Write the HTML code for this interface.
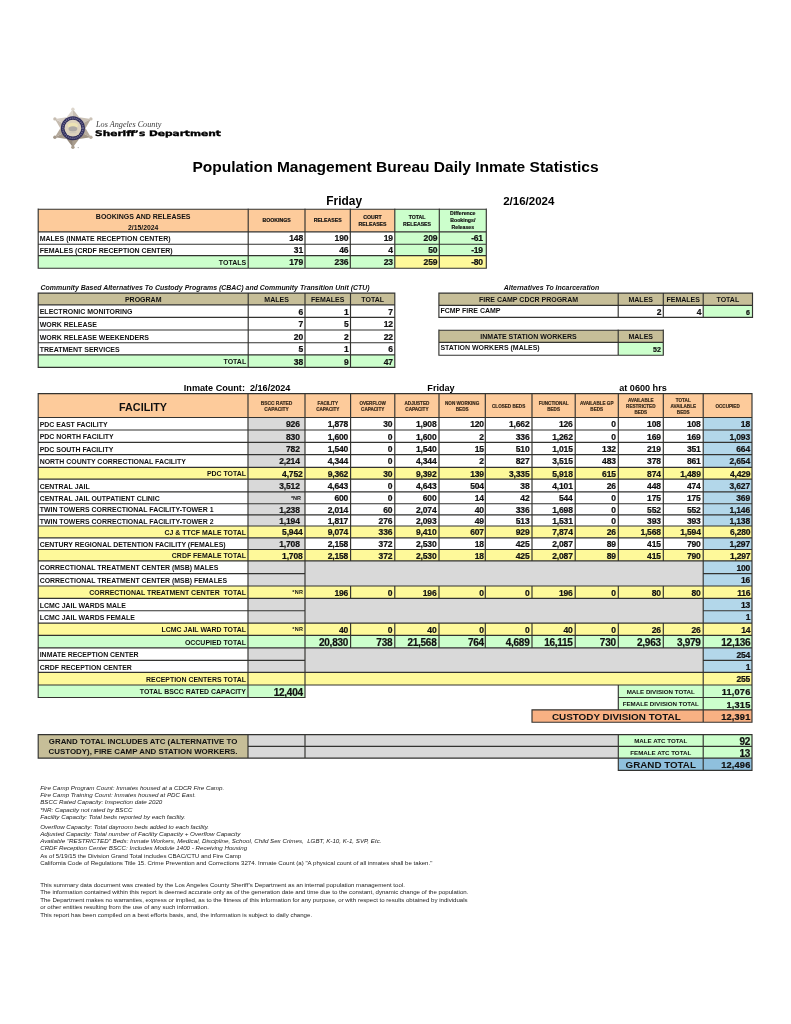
<!DOCTYPE html>
<html lang="en"><head><meta charset="utf-8"><title>Population Management Bureau Daily Inmate Statistics</title>
<style>
html,body{margin:0;padding:0;background:#fff}
#pg{position:relative;width:791px;height:1024px;overflow:hidden;background:#fff;font-family:"Liberation Sans",sans-serif;font-weight:700;color:#111}
.r,.l,.t{position:absolute}
.t{display:flex;align-items:center;box-sizing:border-box;white-space:nowrap;line-height:1.15}
.n{-webkit-text-stroke:0.22px #111}
.h{-webkit-text-stroke:0.18px currentColor}
.tl{justify-content:flex-start;text-align:left}
.tr{justify-content:flex-end;text-align:right}
.tc{justify-content:center;text-align:center}
</style></head>
<body><div id="pg">
<svg class="r" style="left:0;top:0" width="791" height="1024" viewBox="0 0 791 1024">
<rect x="38.2" y="209.2" width="356.6" height="22.6" fill="#FDCB9B"/>
<rect x="394.8" y="209.2" width="91.5" height="22.6" fill="#CCFFCC"/>
<rect x="394.8" y="231.8" width="91.5" height="23.8" fill="#CCFFCC"/>
<rect x="38.2" y="255.6" width="356.6" height="12.6" fill="#CCFFCC"/>
<rect x="394.8" y="255.6" width="91.5" height="12.6" fill="#FEF99A"/>
<rect x="38.2" y="293.1" width="356.6" height="11.7" fill="#C6BE98"/>
<rect x="38.2" y="354.8" width="356.6" height="12.6" fill="#CCFFCC"/>
<rect x="438.9" y="293.1" width="313.6" height="12.2" fill="#C6BE98"/>
<rect x="703.2" y="305.3" width="49.3" height="12.1" fill="#CCFFCC"/>
<rect x="438.9" y="330.2" width="224.4" height="12.1" fill="#C6BE98"/>
<rect x="618.2" y="342.3" width="45.1" height="12.9" fill="#CCFFCC"/>
<rect x="38.2" y="393.6" width="713.8" height="23.9" fill="#FDCB9B"/>
<rect x="248.0" y="417.5" width="57.0" height="12.5" fill="#D9D9D9"/>
<rect x="703.2" y="417.5" width="48.8" height="12.5" fill="#B3D7EA"/>
<rect x="248.0" y="430.0" width="57.0" height="12.3" fill="#D9D9D9"/>
<rect x="703.2" y="430.0" width="48.8" height="12.3" fill="#B3D7EA"/>
<rect x="248.0" y="442.3" width="57.0" height="12.3" fill="#D9D9D9"/>
<rect x="703.2" y="442.3" width="48.8" height="12.3" fill="#B3D7EA"/>
<rect x="248.0" y="454.6" width="57.0" height="12.7" fill="#D9D9D9"/>
<rect x="703.2" y="454.6" width="48.8" height="12.7" fill="#B3D7EA"/>
<rect x="38.2" y="467.3" width="713.8" height="11.8" fill="#FEF99A"/>
<rect x="248.0" y="479.1" width="57.0" height="12.7" fill="#D9D9D9"/>
<rect x="703.2" y="479.1" width="48.8" height="12.7" fill="#B3D7EA"/>
<rect x="248.0" y="491.8" width="57.0" height="11.9" fill="#D9D9D9"/>
<rect x="703.2" y="491.8" width="48.8" height="11.9" fill="#B3D7EA"/>
<rect x="248.0" y="503.7" width="57.0" height="11.2" fill="#D9D9D9"/>
<rect x="703.2" y="503.7" width="48.8" height="11.2" fill="#B3D7EA"/>
<rect x="248.0" y="514.9" width="57.0" height="11.1" fill="#D9D9D9"/>
<rect x="703.2" y="514.9" width="48.8" height="11.1" fill="#B3D7EA"/>
<rect x="38.2" y="526.0" width="713.8" height="11.8" fill="#FEF99A"/>
<rect x="248.0" y="537.8" width="57.0" height="11.7" fill="#D9D9D9"/>
<rect x="703.2" y="537.8" width="48.8" height="11.7" fill="#B3D7EA"/>
<rect x="38.2" y="549.5" width="713.8" height="11.4" fill="#FEF99A"/>
<rect x="248.0" y="560.9" width="455.2" height="13.3" fill="#D9D9D9"/>
<rect x="703.2" y="560.9" width="48.8" height="12.7" fill="#B3D7EA"/>
<rect x="248.0" y="573.6" width="455.2" height="13.0" fill="#D9D9D9"/>
<rect x="703.2" y="573.6" width="48.8" height="12.4" fill="#B3D7EA"/>
<rect x="38.2" y="586.0" width="713.8" height="12.4" fill="#FEF99A"/>
<rect x="248.0" y="598.4" width="455.2" height="12.9" fill="#D9D9D9"/>
<rect x="703.2" y="598.4" width="48.8" height="12.3" fill="#B3D7EA"/>
<rect x="248.0" y="610.7" width="455.2" height="13.0" fill="#D9D9D9"/>
<rect x="703.2" y="610.7" width="48.8" height="12.4" fill="#B3D7EA"/>
<rect x="38.2" y="623.1" width="713.8" height="12.3" fill="#FEF99A"/>
<rect x="38.2" y="635.4" width="713.8" height="12.4" fill="#CCFFCC"/>
<rect x="248.0" y="647.8" width="455.2" height="13.2" fill="#D9D9D9"/>
<rect x="703.2" y="647.8" width="48.8" height="12.6" fill="#B3D7EA"/>
<rect x="248.0" y="660.4" width="455.2" height="12.6" fill="#D9D9D9"/>
<rect x="703.2" y="660.4" width="48.8" height="12.0" fill="#B3D7EA"/>
<rect x="38.2" y="672.4" width="713.8" height="12.6" fill="#FEF99A"/>
<rect x="38.2" y="685.0" width="266.8" height="12.5" fill="#CCFFCC"/>
<rect x="618.3" y="685.0" width="133.7" height="24.8" fill="#CCFFCC"/>
<rect x="532.0" y="709.8" width="220.0" height="12.4" fill="#F8B183"/>
<rect x="38.2" y="734.6" width="209.8" height="23.5" fill="#C6BE98"/>
<rect x="248.0" y="734.6" width="370.3" height="23.5" fill="#D9D9D9"/>
<rect x="618.3" y="734.6" width="133.7" height="23.5" fill="#CCFFCC"/>
<rect x="618.3" y="758.1" width="133.7" height="12.2" fill="#8FC0DD"/>
<path fill="none" stroke="#333330" stroke-width="1.15" d="M37.62 209.20H486.88M37.62 231.80H486.88M37.62 244.20H486.88M37.62 255.60H486.88M37.62 268.20H486.88M38.20 208.62V268.77M248.20 208.62V268.77M305.00 208.62V268.77M350.30 208.62V268.77M394.80 208.62V268.77M439.30 208.62V268.77M486.30 208.62V268.77M37.62 293.10H395.38M37.62 304.80H395.38M37.62 317.40H395.38M37.62 330.00H395.38M37.62 342.70H395.38M37.62 354.80H395.38M37.62 367.40H395.38M38.20 292.53V367.97M248.20 292.53V367.97M305.00 292.53V367.97M350.50 292.53V367.97M394.80 292.53V367.97M438.32 293.10H753.08M438.32 305.30H753.08M438.32 317.40H753.08M438.90 292.53V317.97M618.20 292.53V317.97M663.30 292.53V317.97M703.20 292.53V317.97M752.50 292.53V317.97M438.32 330.20H663.88M438.32 342.30H663.88M438.32 355.20H663.88M438.90 329.62V355.77M618.20 329.62V355.77M663.30 329.62V355.77M37.62 393.60H752.58M37.62 417.50H752.58M38.20 393.03V418.07M248.00 393.03V418.07M305.00 393.03V418.07M350.60 393.03V418.07M394.80 393.03V418.07M439.00 393.03V418.07M485.30 393.03V418.07M532.00 393.03V418.07M575.20 393.03V418.07M618.30 393.03V418.07M663.30 393.03V418.07M703.20 393.03V418.07M752.00 393.03V418.07M37.62 430.00H752.58M38.20 416.93V430.57M248.00 416.93V430.57M305.00 416.93V430.57M350.60 416.93V430.57M394.80 416.93V430.57M439.00 416.93V430.57M485.30 416.93V430.57M532.00 416.93V430.57M575.20 416.93V430.57M618.30 416.93V430.57M663.30 416.93V430.57M703.20 416.93V430.57M752.00 416.93V430.57M37.62 442.30H752.58M38.20 429.43V442.88M248.00 429.43V442.88M305.00 429.43V442.88M350.60 429.43V442.88M394.80 429.43V442.88M439.00 429.43V442.88M485.30 429.43V442.88M532.00 429.43V442.88M575.20 429.43V442.88M618.30 429.43V442.88M663.30 429.43V442.88M703.20 429.43V442.88M752.00 429.43V442.88M37.62 454.60H752.58M38.20 441.73V455.18M248.00 441.73V455.18M305.00 441.73V455.18M350.60 441.73V455.18M394.80 441.73V455.18M439.00 441.73V455.18M485.30 441.73V455.18M532.00 441.73V455.18M575.20 441.73V455.18M618.30 441.73V455.18M663.30 441.73V455.18M703.20 441.73V455.18M752.00 441.73V455.18M37.62 467.30H752.58M38.20 454.03V467.88M248.00 454.03V467.88M305.00 454.03V467.88M350.60 454.03V467.88M394.80 454.03V467.88M439.00 454.03V467.88M485.30 454.03V467.88M532.00 454.03V467.88M575.20 454.03V467.88M618.30 454.03V467.88M663.30 454.03V467.88M703.20 454.03V467.88M752.00 454.03V467.88M37.62 479.10H752.58M38.20 466.73V479.68M248.00 466.73V479.68M305.00 466.73V479.68M350.60 466.73V479.68M394.80 466.73V479.68M439.00 466.73V479.68M485.30 466.73V479.68M532.00 466.73V479.68M575.20 466.73V479.68M618.30 466.73V479.68M663.30 466.73V479.68M703.20 466.73V479.68M752.00 466.73V479.68M37.62 491.80H752.58M38.20 478.53V492.38M248.00 478.53V492.38M305.00 478.53V492.38M350.60 478.53V492.38M394.80 478.53V492.38M439.00 478.53V492.38M485.30 478.53V492.38M532.00 478.53V492.38M575.20 478.53V492.38M618.30 478.53V492.38M663.30 478.53V492.38M703.20 478.53V492.38M752.00 478.53V492.38M37.62 503.70H752.58M38.20 491.23V504.27M248.00 491.23V504.27M305.00 491.23V504.27M350.60 491.23V504.27M394.80 491.23V504.27M439.00 491.23V504.27M485.30 491.23V504.27M532.00 491.23V504.27M575.20 491.23V504.27M618.30 491.23V504.27M663.30 491.23V504.27M703.20 491.23V504.27M752.00 491.23V504.27M37.62 514.90H752.58M38.20 503.12V515.48M248.00 503.12V515.48M305.00 503.12V515.48M350.60 503.12V515.48M394.80 503.12V515.48M439.00 503.12V515.48M485.30 503.12V515.48M532.00 503.12V515.48M575.20 503.12V515.48M618.30 503.12V515.48M663.30 503.12V515.48M703.20 503.12V515.48M752.00 503.12V515.48M37.62 526.00H752.58M38.20 514.32V526.58M248.00 514.32V526.58M305.00 514.32V526.58M350.60 514.32V526.58M394.80 514.32V526.58M439.00 514.32V526.58M485.30 514.32V526.58M532.00 514.32V526.58M575.20 514.32V526.58M618.30 514.32V526.58M663.30 514.32V526.58M703.20 514.32V526.58M752.00 514.32V526.58M37.62 537.80H752.58M38.20 525.42V538.38M248.00 525.42V538.38M305.00 525.42V538.38M350.60 525.42V538.38M394.80 525.42V538.38M439.00 525.42V538.38M485.30 525.42V538.38M532.00 525.42V538.38M575.20 525.42V538.38M618.30 525.42V538.38M663.30 525.42V538.38M703.20 525.42V538.38M752.00 525.42V538.38M37.62 549.50H752.58M38.20 537.22V550.08M248.00 537.22V550.08M305.00 537.22V550.08M350.60 537.22V550.08M394.80 537.22V550.08M439.00 537.22V550.08M485.30 537.22V550.08M532.00 537.22V550.08M575.20 537.22V550.08M618.30 537.22V550.08M663.30 537.22V550.08M703.20 537.22V550.08M752.00 537.22V550.08M37.62 560.90H752.58M38.20 548.92V561.48M248.00 548.92V561.48M305.00 548.92V561.48M350.60 548.92V561.48M394.80 548.92V561.48M439.00 548.92V561.48M485.30 548.92V561.48M532.00 548.92V561.48M575.20 548.92V561.48M618.30 548.92V561.48M663.30 548.92V561.48M703.20 548.92V561.48M752.00 548.92V561.48M37.62 573.60H305.57M702.62 573.60H752.58M38.20 560.32V574.18M248.00 560.32V574.18M305.00 560.32V574.18M703.20 560.32V574.18M752.00 560.32V574.18M37.62 586.00H305.57M702.62 586.00H752.58M38.20 573.02V586.58M248.00 573.02V586.58M305.00 573.02V586.58M703.20 573.02V586.58M752.00 573.02V586.58M37.62 598.40H752.58M38.20 585.42V598.98M248.00 585.42V598.98M305.00 585.42V598.98M350.60 585.42V598.98M394.80 585.42V598.98M439.00 585.42V598.98M485.30 585.42V598.98M532.00 585.42V598.98M575.20 585.42V598.98M618.30 585.42V598.98M663.30 585.42V598.98M703.20 585.42V598.98M752.00 585.42V598.98M37.62 610.70H305.57M702.62 610.70H752.58M38.20 597.82V611.28M248.00 597.82V611.28M305.00 597.82V611.28M703.20 597.82V611.28M752.00 597.82V611.28M37.62 623.10H305.57M702.62 623.10H752.58M38.20 610.12V623.68M248.00 610.12V623.68M305.00 610.12V623.68M703.20 610.12V623.68M752.00 610.12V623.68M37.62 635.40H752.58M38.20 622.52V635.98M248.00 622.52V635.98M305.00 622.52V635.98M350.60 622.52V635.98M394.80 622.52V635.98M439.00 622.52V635.98M485.30 622.52V635.98M532.00 622.52V635.98M575.20 622.52V635.98M618.30 622.52V635.98M663.30 622.52V635.98M703.20 622.52V635.98M752.00 622.52V635.98M37.62 647.80H752.58M38.20 634.82V648.38M248.00 634.82V648.38M305.00 634.82V648.38M350.60 634.82V648.38M394.80 634.82V648.38M439.00 634.82V648.38M485.30 634.82V648.38M532.00 634.82V648.38M575.20 634.82V648.38M618.30 634.82V648.38M663.30 634.82V648.38M703.20 634.82V648.38M752.00 634.82V648.38M37.62 660.40H305.57M702.62 660.40H752.58M38.20 647.22V660.98M248.00 647.22V660.98M305.00 647.22V660.98M703.20 647.22V660.98M752.00 647.22V660.98M37.62 672.40H305.57M702.62 672.40H752.58M38.20 659.82V672.98M248.00 659.82V672.98M305.00 659.82V672.98M703.20 659.82V672.98M752.00 659.82V672.98M37.62 685.00H752.58M38.20 671.82V685.58M248.00 671.82V685.58M305.00 671.82V685.58M703.20 671.82V685.58M752.00 671.82V685.58M37.62 586.00H752.58M37.62 623.10H752.58M37.62 672.40H752.58M37.62 697.50H305.57M38.20 684.42V698.08M248.00 684.42V698.08M305.00 684.42V698.08M617.72 697.50H752.58M617.72 709.80H752.58M618.30 684.42V710.38M703.20 684.42V710.38M752.00 684.42V710.38M531.42 709.80H752.58M531.42 722.20H752.58M532.00 709.22V722.78M752.00 709.22V722.78M703.20 709.22V722.78M37.62 734.60H752.58M247.43 746.40H752.58M37.62 758.10H752.58M617.72 770.30H752.58M38.20 734.02V758.68M248.00 734.02V758.68M305.00 734.02V758.68M618.30 734.02V758.68M703.20 734.02V758.68M752.00 734.02V758.68M618.30 757.52V770.88M703.20 757.52V770.88M752.00 757.52V770.88"/>
</svg>
<svg class="r" style="left:0;top:0" width="240" height="170" viewBox="0 0 240 170"><polygon points="72.9,109.2 66.6,117.3 72.9,128.2" fill="#ddd6cc"/><polygon points="72.9,109.2 79.2,117.3 72.9,128.2" fill="#c9c0b4"/><circle cx="72.9" cy="109.2" r="1.7" fill="#ddd6cc"/><polygon points="90.9,118.9 79.2,117.3 72.9,128.2" fill="#cbc2b6"/><polygon points="90.9,118.9 85.5,128.2 72.9,128.2" fill="#b3a899"/><circle cx="90.9" cy="118.9" r="1.7" fill="#cbc2b6"/><polygon points="90.9,137.3 85.5,128.2 72.9,128.2" fill="#b7ac9d"/><polygon points="90.9,137.3 79.2,139.1 72.9,128.2" fill="#a29685"/><circle cx="90.9" cy="137.3" r="1.7" fill="#b7ac9d"/><polygon points="72.9,147.2 79.2,139.1 72.9,128.2" fill="#a99d8d"/><polygon points="72.9,147.2 66.6,139.1 72.9,128.2" fill="#94887a"/><circle cx="72.9" cy="147.2" r="1.7" fill="#a99d8d"/><polygon points="54.9,137.3 66.6,139.1 72.9,128.2" fill="#a4988a"/><polygon points="54.9,137.3 60.3,128.2 72.9,128.2" fill="#b3a89a"/><circle cx="54.9" cy="137.3" r="1.7" fill="#a4988a"/><polygon points="54.9,118.9 60.3,128.2 72.9,128.2" fill="#c6bcb0"/><polygon points="54.9,118.9 66.6,117.3 72.9,128.2" fill="#d6cec4"/><circle cx="54.9" cy="118.9" r="1.7" fill="#c6bcb0"/><circle cx="72.9" cy="128.2" r="12" fill="#2f2d5a"/><circle cx="72.9" cy="128.2" r="10.1" fill="none" stroke="#77749a" stroke-width="1.5" stroke-dasharray="1.1 0.9"/><circle cx="72.9" cy="128.2" r="8.4" fill="#ddd2bd"/><ellipse cx="72.9" cy="125.39999999999999" rx="5" ry="2.6" fill="#ece3b4"/><ellipse cx="72.9" cy="128.79999999999998" rx="4.4" ry="2.6" fill="#aeaaa6"/><rect x="69.5" y="131.6" width="6.8" height="1.6" fill="#cfc8bb"/><circle cx="78.2" cy="147.6" r="0.6" fill="#9a9a9a"/></svg>
<div class="t tl" style="left:95.6px;top:118.2px;width:120px;height:12px;font-family:'Liberation Serif',serif;font-style:italic;font-weight:400;font-size:8.8px;color:#3a3a3a;transform-origin:0 50%;transform:scaleX(0.93)"><span>Los Angeles County</span></div>
<div class="t tl" style="left:95.4px;top:128.6px;width:100px;height:12px;font-family:'DejaVu Sans','Liberation Sans',sans-serif;font-size:7.7px;color:#000;transform-origin:0 50%;transform:scaleX(1.38);-webkit-text-stroke:0.35px #000"><span>Sheriff’s Department</span></div>
<div class="t tc" style="left:150.5px;top:157.0px;width:490.0px;height:20.0px;font-size:15.52px;color:#000;"><span>Population Management Bureau Daily Inmate Statistics</span></div>
<div class="t tc" style="left:319.2px;top:194.0px;width:50.0px;height:16.0px;font-size:11.9px;color:#000;"><span>Friday</span></div>
<div class="t tc" style="left:493.8px;top:194.0px;width:70.0px;height:16.0px;font-size:11.5px;color:#000;"><span>2/16/2024</span></div>
<div class="t tc" style="left:38.2px;top:211.4px;width:210.0px;height:11.0px;font-size:7px;"><span>BOOKINGS AND RELEASES</span></div>
<div class="t tc" style="left:38.2px;top:222.7px;width:210.0px;height:10.6px;font-size:6.8px;"><span>2/15/2024</span></div>
<div class="t tc h" style="left:248.2px;top:209.5px;width:56.8px;height:22.6px;font-size:5.2px;line-height:7px;"><span>BOOKINGS</span></div>
<div class="t tc h" style="left:305.0px;top:209.5px;width:45.3px;height:22.6px;font-size:5.2px;line-height:7px;"><span>RELEASES</span></div>
<div class="t tc h" style="left:350.3px;top:209.5px;width:44.5px;height:22.6px;font-size:5.2px;line-height:7px;"><span>COURT<br>RELEASES</span></div>
<div class="t tc h" style="left:394.8px;top:209.5px;width:44.5px;height:22.6px;font-size:5.2px;line-height:7px;"><span>TOTAL<br>RELEASES</span></div>
<div class="t tc h" style="left:439.3px;top:209.5px;width:47.0px;height:22.6px;font-size:5.2px;line-height:7px;"><span>Difference<br>Bookings/<br>Releases</span></div>
<div class="t tl" style="left:38.2px;top:233.0px;width:210.0px;height:12.4px;font-size:7px;padding-left:1.5px;"><span>MALES (INMATE RECEPTION CENTER)</span></div>
<div class="t tr n" style="left:248.2px;top:233.1px;width:56.8px;height:12.4px;font-size:8.5px;padding-right:2px;letter-spacing:-0.17px;"><span>148</span></div>
<div class="t tr n" style="left:305.0px;top:233.1px;width:45.3px;height:12.4px;font-size:8.5px;padding-right:2px;letter-spacing:-0.17px;"><span>190</span></div>
<div class="t tr n" style="left:350.3px;top:233.1px;width:44.5px;height:12.4px;font-size:8.5px;padding-right:2px;letter-spacing:-0.17px;"><span>19</span></div>
<div class="t tr n" style="left:394.8px;top:233.1px;width:44.5px;height:12.4px;font-size:8.5px;padding-right:2px;letter-spacing:-0.17px;"><span>209</span></div>
<div class="t tr n" style="left:439.3px;top:233.1px;width:47.0px;height:12.4px;font-size:8.5px;padding-right:3.4px;letter-spacing:-0.17px;"><span>-61</span></div>
<div class="t tl" style="left:38.2px;top:245.4px;width:210.0px;height:11.4px;font-size:7px;padding-left:1.5px;"><span>FEMALES (CRDF RECEPTION CENTER)</span></div>
<div class="t tr n" style="left:248.2px;top:245.5px;width:56.8px;height:11.4px;font-size:8.5px;padding-right:2px;letter-spacing:-0.17px;"><span>31</span></div>
<div class="t tr n" style="left:305.0px;top:245.5px;width:45.3px;height:11.4px;font-size:8.5px;padding-right:2px;letter-spacing:-0.17px;"><span>46</span></div>
<div class="t tr n" style="left:350.3px;top:245.5px;width:44.5px;height:11.4px;font-size:8.5px;padding-right:2px;letter-spacing:-0.17px;"><span>4</span></div>
<div class="t tr n" style="left:394.8px;top:245.5px;width:44.5px;height:11.4px;font-size:8.5px;padding-right:2px;letter-spacing:-0.17px;"><span>50</span></div>
<div class="t tr n" style="left:439.3px;top:245.5px;width:47.0px;height:11.4px;font-size:8.5px;padding-right:3.4px;letter-spacing:-0.17px;"><span>-19</span></div>
<div class="t tr" style="left:38.2px;top:256.8px;width:210.0px;height:12.6px;font-size:7px;padding-right:2px;"><span>TOTALS</span></div>
<div class="t tr n" style="left:248.2px;top:256.9px;width:56.8px;height:12.6px;font-size:8.5px;padding-right:2px;letter-spacing:-0.17px;"><span>179</span></div>
<div class="t tr n" style="left:305.0px;top:256.9px;width:45.3px;height:12.6px;font-size:8.5px;padding-right:2px;letter-spacing:-0.17px;"><span>236</span></div>
<div class="t tr n" style="left:350.3px;top:256.9px;width:44.5px;height:12.6px;font-size:8.5px;padding-right:2px;letter-spacing:-0.17px;"><span>23</span></div>
<div class="t tr n" style="left:394.8px;top:256.9px;width:44.5px;height:12.6px;font-size:8.5px;padding-right:2px;letter-spacing:-0.17px;"><span>259</span></div>
<div class="t tr n" style="left:439.3px;top:256.9px;width:47.0px;height:12.6px;font-size:8.5px;padding-right:3.4px;letter-spacing:-0.17px;"><span>-80</span></div>
<div class="t tl" style="left:38.6px;top:281.9px;width:361.4px;height:12.0px;font-size:6.95px;font-style:italic;padding-left:2px;"><span>Community Based Alternatives To Custody Programs (CBAC) and Community Transition Unit (CTU)</span></div>
<div class="t tc" style="left:38.2px;top:294.3px;width:210.0px;height:11.7px;font-size:7px;"><span>PROGRAM</span></div>
<div class="t tc" style="left:248.2px;top:294.3px;width:56.8px;height:11.7px;font-size:7px;"><span>MALES</span></div>
<div class="t tc" style="left:305.0px;top:294.3px;width:45.5px;height:11.7px;font-size:7px;"><span>FEMALES</span></div>
<div class="t tc" style="left:350.5px;top:294.3px;width:44.3px;height:11.7px;font-size:7px;"><span>TOTAL</span></div>
<div class="t tl" style="left:38.2px;top:306.0px;width:210.0px;height:12.6px;font-size:7px;padding-left:1.5px;"><span>ELECTRONIC MONITORING</span></div>
<div class="t tr n" style="left:248.2px;top:306.1px;width:56.8px;height:12.6px;font-size:8.5px;padding-right:2px;letter-spacing:-0.17px;"><span>6</span></div>
<div class="t tr n" style="left:305.0px;top:306.1px;width:45.5px;height:12.6px;font-size:8.5px;padding-right:2px;letter-spacing:-0.17px;"><span>1</span></div>
<div class="t tr n" style="left:350.5px;top:306.1px;width:44.3px;height:12.6px;font-size:8.5px;padding-right:2px;letter-spacing:-0.17px;"><span>7</span></div>
<div class="t tl" style="left:38.2px;top:318.6px;width:210.0px;height:12.6px;font-size:7px;padding-left:1.5px;"><span>WORK RELEASE</span></div>
<div class="t tr n" style="left:248.2px;top:318.7px;width:56.8px;height:12.6px;font-size:8.5px;padding-right:2px;letter-spacing:-0.17px;"><span>7</span></div>
<div class="t tr n" style="left:305.0px;top:318.7px;width:45.5px;height:12.6px;font-size:8.5px;padding-right:2px;letter-spacing:-0.17px;"><span>5</span></div>
<div class="t tr n" style="left:350.5px;top:318.7px;width:44.3px;height:12.6px;font-size:8.5px;padding-right:2px;letter-spacing:-0.17px;"><span>12</span></div>
<div class="t tl" style="left:38.2px;top:331.2px;width:210.0px;height:12.7px;font-size:7px;padding-left:1.5px;"><span>WORK RELEASE WEEKENDERS</span></div>
<div class="t tr n" style="left:248.2px;top:331.3px;width:56.8px;height:12.7px;font-size:8.5px;padding-right:2px;letter-spacing:-0.17px;"><span>20</span></div>
<div class="t tr n" style="left:305.0px;top:331.3px;width:45.5px;height:12.7px;font-size:8.5px;padding-right:2px;letter-spacing:-0.17px;"><span>2</span></div>
<div class="t tr n" style="left:350.5px;top:331.3px;width:44.3px;height:12.7px;font-size:8.5px;padding-right:2px;letter-spacing:-0.17px;"><span>22</span></div>
<div class="t tl" style="left:38.2px;top:343.9px;width:210.0px;height:12.1px;font-size:7px;padding-left:1.5px;"><span>TREATMENT SERVICES</span></div>
<div class="t tr n" style="left:248.2px;top:344.0px;width:56.8px;height:12.1px;font-size:8.5px;padding-right:2px;letter-spacing:-0.17px;"><span>5</span></div>
<div class="t tr n" style="left:305.0px;top:344.0px;width:45.5px;height:12.1px;font-size:8.5px;padding-right:2px;letter-spacing:-0.17px;"><span>1</span></div>
<div class="t tr n" style="left:350.5px;top:344.0px;width:44.3px;height:12.1px;font-size:8.5px;padding-right:2px;letter-spacing:-0.17px;"><span>6</span></div>
<div class="t tr" style="left:38.2px;top:356.0px;width:210.0px;height:12.6px;font-size:7px;padding-right:2px;"><span>TOTAL</span></div>
<div class="t tr n" style="left:248.2px;top:356.1px;width:56.8px;height:12.6px;font-size:8.5px;padding-right:2px;letter-spacing:-0.17px;"><span>38</span></div>
<div class="t tr n" style="left:305.0px;top:356.1px;width:45.5px;height:12.6px;font-size:8.5px;padding-right:2px;letter-spacing:-0.17px;"><span>9</span></div>
<div class="t tr n" style="left:350.5px;top:356.1px;width:44.3px;height:12.6px;font-size:8.5px;padding-right:2px;letter-spacing:-0.17px;"><span>47</span></div>
<div class="t tc" style="left:480.0px;top:281.9px;width:143.0px;height:12.0px;font-size:6.95px;font-style:italic;"><span>Alternatives To Incarceration</span></div>
<div class="t tc" style="left:438.9px;top:294.3px;width:179.3px;height:12.2px;font-size:7px;"><span>FIRE CAMP CDCR PROGRAM</span></div>
<div class="t tc" style="left:618.2px;top:294.3px;width:45.1px;height:12.2px;font-size:7px;"><span>MALES</span></div>
<div class="t tc" style="left:663.3px;top:294.3px;width:39.9px;height:12.2px;font-size:7px;"><span>FEMALES</span></div>
<div class="t tc" style="left:703.2px;top:294.3px;width:49.3px;height:12.2px;font-size:7px;"><span>TOTAL</span></div>
<div class="t tl" style="left:438.9px;top:305.0px;width:179.3px;height:12.1px;font-size:7px;padding-left:1.5px;"><span>FCMP FIRE CAMP</span></div>
<div class="t tr n" style="left:618.2px;top:306.6px;width:45.1px;height:12.1px;font-size:8.5px;padding-right:2px;letter-spacing:-0.17px;"><span>2</span></div>
<div class="t tr n" style="left:663.3px;top:306.6px;width:39.9px;height:12.1px;font-size:8.5px;padding-right:2px;letter-spacing:-0.17px;"><span>4</span></div>
<div class="t tr n" style="left:703.2px;top:306.5px;width:49.3px;height:12.1px;font-size:7px;padding-right:2.5px;"><span>6</span></div>
<div class="t tc" style="left:438.9px;top:331.4px;width:179.3px;height:12.1px;font-size:7px;"><span>INMATE STATION WORKERS</span></div>
<div class="t tc" style="left:618.2px;top:331.4px;width:45.1px;height:12.1px;font-size:7px;"><span>MALES</span></div>
<div class="t tl" style="left:438.9px;top:342.0px;width:179.3px;height:12.9px;font-size:7px;padding-left:1.5px;"><span>STATION WORKERS (MALES)</span></div>
<div class="t tr n" style="left:618.2px;top:343.5px;width:45.1px;height:12.9px;font-size:7px;padding-right:2.5px;"><span>52</span></div>
<div class="t tl" style="left:150.0px;top:382.3px;width:170.0px;height:12.0px;font-size:9.1px;color:#000;padding-left:33.8px;"><span>Inmate Count:&nbsp; 2/16/2024</span></div>
<div class="t tc" style="left:420.0px;top:382.3px;width:42.0px;height:12.0px;font-size:9.1px;color:#000;"><span>Friday</span></div>
<div class="t tc" style="left:610.0px;top:382.3px;width:66.0px;height:12.0px;font-size:9.1px;color:#000;"><span>at 0600 hrs</span></div>
<div class="t tc" style="left:38.2px;top:394.9px;width:209.8px;height:23.9px;font-size:10.8px;"><span>FACILITY</span></div>
<div class="t tc h" style="left:248.0px;top:394.8px;width:57.0px;height:23.9px;font-size:4.9px;color:#3a2a1a;line-height:6px;"><span>BSCC RATED<br>CAPACITY</span></div>
<div class="t tc h" style="left:305.0px;top:394.8px;width:45.6px;height:23.9px;font-size:4.6px;color:#3a2a1a;line-height:6px;"><span>FACILITY<br>CAPACITY</span></div>
<div class="t tc h" style="left:350.6px;top:394.8px;width:44.2px;height:23.9px;font-size:4.6px;color:#3a2a1a;line-height:6px;"><span>OVERFLOW<br>CAPACITY</span></div>
<div class="t tc h" style="left:394.8px;top:394.8px;width:44.2px;height:23.9px;font-size:4.6px;color:#3a2a1a;line-height:6px;"><span>ADJUSTED<br>CAPACITY</span></div>
<div class="t tc h" style="left:439.0px;top:394.8px;width:46.3px;height:23.9px;font-size:4.6px;color:#3a2a1a;line-height:6px;"><span>NON WORKING<br>BEDS</span></div>
<div class="t tc h" style="left:485.3px;top:394.8px;width:46.7px;height:23.9px;font-size:4.6px;color:#3a2a1a;line-height:6px;"><span>CLOSED BEDS</span></div>
<div class="t tc h" style="left:532.0px;top:394.8px;width:43.2px;height:23.9px;font-size:4.6px;color:#3a2a1a;line-height:6px;"><span>FUNCTIONAL<br>BEDS</span></div>
<div class="t tc h" style="left:575.2px;top:394.8px;width:43.1px;height:23.9px;font-size:4.6px;color:#3a2a1a;line-height:6px;"><span>AVAILABLE GP<br>BEDS</span></div>
<div class="t tc h" style="left:618.3px;top:394.8px;width:45.0px;height:23.9px;font-size:4.6px;color:#3a2a1a;line-height:6px;"><span>AVAILABLE<br>RESTRICTED<br>BEDS</span></div>
<div class="t tc h" style="left:663.3px;top:394.8px;width:39.9px;height:23.9px;font-size:4.6px;color:#3a2a1a;line-height:6px;"><span>TOTAL<br>AVAILABLE<br>BEDS</span></div>
<div class="t tc h" style="left:703.2px;top:394.8px;width:48.8px;height:23.9px;font-size:4.6px;color:#3a2a1a;line-height:6px;"><span>OCCUPIED</span></div>
<div class="t tl" style="left:38.2px;top:418.7px;width:209.8px;height:12.5px;font-size:6.95px;padding-left:1.5px;"><span>PDC EAST FACILITY</span></div>
<div class="t tr n" style="left:248.0px;top:418.8px;width:57.0px;height:12.5px;font-size:8.5px;padding-right:5.3px;letter-spacing:-0.17px;"><span>926</span></div>
<div class="t tr n" style="left:305.0px;top:418.8px;width:45.6px;height:12.5px;font-size:8.5px;padding-right:2.5px;letter-spacing:-0.17px;"><span>1,878</span></div>
<div class="t tr n" style="left:350.6px;top:418.8px;width:44.2px;height:12.5px;font-size:8.5px;padding-right:2.5px;letter-spacing:-0.17px;"><span>30</span></div>
<div class="t tr n" style="left:394.8px;top:418.8px;width:44.2px;height:12.5px;font-size:8.5px;padding-right:2.5px;letter-spacing:-0.17px;"><span>1,908</span></div>
<div class="t tr n" style="left:439.0px;top:418.8px;width:46.3px;height:12.5px;font-size:8.5px;padding-right:1.4px;letter-spacing:-0.17px;"><span>120</span></div>
<div class="t tr n" style="left:485.3px;top:418.8px;width:46.7px;height:12.5px;font-size:8.5px;padding-right:2.5px;letter-spacing:-0.17px;"><span>1,662</span></div>
<div class="t tr n" style="left:532.0px;top:418.8px;width:43.2px;height:12.5px;font-size:8.5px;padding-right:2.5px;letter-spacing:-0.17px;"><span>126</span></div>
<div class="t tr n" style="left:575.2px;top:418.8px;width:43.1px;height:12.5px;font-size:8.5px;padding-right:2.5px;letter-spacing:-0.17px;"><span>0</span></div>
<div class="t tr n" style="left:618.3px;top:418.8px;width:45.0px;height:12.5px;font-size:8.5px;padding-right:2.5px;letter-spacing:-0.17px;"><span>108</span></div>
<div class="t tr n" style="left:663.3px;top:418.8px;width:39.9px;height:12.5px;font-size:8.5px;padding-right:2.5px;letter-spacing:-0.17px;"><span>108</span></div>
<div class="t tr n" style="left:703.2px;top:418.8px;width:48.8px;height:12.5px;font-size:8.5px;padding-right:2.0px;letter-spacing:-0.17px;"><span>18</span></div>
<div class="t tl" style="left:38.2px;top:431.2px;width:209.8px;height:12.3px;font-size:6.95px;padding-left:1.5px;"><span>PDC NORTH FACILITY</span></div>
<div class="t tr n" style="left:248.0px;top:431.3px;width:57.0px;height:12.3px;font-size:8.5px;padding-right:5.3px;letter-spacing:-0.17px;"><span>830</span></div>
<div class="t tr n" style="left:305.0px;top:431.3px;width:45.6px;height:12.3px;font-size:8.5px;padding-right:2.5px;letter-spacing:-0.17px;"><span>1,600</span></div>
<div class="t tr n" style="left:350.6px;top:431.3px;width:44.2px;height:12.3px;font-size:8.5px;padding-right:2.5px;letter-spacing:-0.17px;"><span>0</span></div>
<div class="t tr n" style="left:394.8px;top:431.3px;width:44.2px;height:12.3px;font-size:8.5px;padding-right:2.5px;letter-spacing:-0.17px;"><span>1,600</span></div>
<div class="t tr n" style="left:439.0px;top:431.3px;width:46.3px;height:12.3px;font-size:8.5px;padding-right:1.4px;letter-spacing:-0.17px;"><span>2</span></div>
<div class="t tr n" style="left:485.3px;top:431.3px;width:46.7px;height:12.3px;font-size:8.5px;padding-right:2.5px;letter-spacing:-0.17px;"><span>336</span></div>
<div class="t tr n" style="left:532.0px;top:431.3px;width:43.2px;height:12.3px;font-size:8.5px;padding-right:2.5px;letter-spacing:-0.17px;"><span>1,262</span></div>
<div class="t tr n" style="left:575.2px;top:431.3px;width:43.1px;height:12.3px;font-size:8.5px;padding-right:2.5px;letter-spacing:-0.17px;"><span>0</span></div>
<div class="t tr n" style="left:618.3px;top:431.3px;width:45.0px;height:12.3px;font-size:8.5px;padding-right:2.5px;letter-spacing:-0.17px;"><span>169</span></div>
<div class="t tr n" style="left:663.3px;top:431.3px;width:39.9px;height:12.3px;font-size:8.5px;padding-right:2.5px;letter-spacing:-0.17px;"><span>169</span></div>
<div class="t tr n" style="left:703.2px;top:431.3px;width:48.8px;height:12.3px;font-size:8.5px;padding-right:2.0px;letter-spacing:-0.17px;"><span>1,093</span></div>
<div class="t tl" style="left:38.2px;top:443.5px;width:209.8px;height:12.3px;font-size:6.95px;padding-left:1.5px;"><span>PDC SOUTH FACILITY</span></div>
<div class="t tr n" style="left:248.0px;top:443.6px;width:57.0px;height:12.3px;font-size:8.5px;padding-right:5.3px;letter-spacing:-0.17px;"><span>782</span></div>
<div class="t tr n" style="left:305.0px;top:443.6px;width:45.6px;height:12.3px;font-size:8.5px;padding-right:2.5px;letter-spacing:-0.17px;"><span>1,540</span></div>
<div class="t tr n" style="left:350.6px;top:443.6px;width:44.2px;height:12.3px;font-size:8.5px;padding-right:2.5px;letter-spacing:-0.17px;"><span>0</span></div>
<div class="t tr n" style="left:394.8px;top:443.6px;width:44.2px;height:12.3px;font-size:8.5px;padding-right:2.5px;letter-spacing:-0.17px;"><span>1,540</span></div>
<div class="t tr n" style="left:439.0px;top:443.6px;width:46.3px;height:12.3px;font-size:8.5px;padding-right:1.4px;letter-spacing:-0.17px;"><span>15</span></div>
<div class="t tr n" style="left:485.3px;top:443.6px;width:46.7px;height:12.3px;font-size:8.5px;padding-right:2.5px;letter-spacing:-0.17px;"><span>510</span></div>
<div class="t tr n" style="left:532.0px;top:443.6px;width:43.2px;height:12.3px;font-size:8.5px;padding-right:2.5px;letter-spacing:-0.17px;"><span>1,015</span></div>
<div class="t tr n" style="left:575.2px;top:443.6px;width:43.1px;height:12.3px;font-size:8.5px;padding-right:2.5px;letter-spacing:-0.17px;"><span>132</span></div>
<div class="t tr n" style="left:618.3px;top:443.6px;width:45.0px;height:12.3px;font-size:8.5px;padding-right:2.5px;letter-spacing:-0.17px;"><span>219</span></div>
<div class="t tr n" style="left:663.3px;top:443.6px;width:39.9px;height:12.3px;font-size:8.5px;padding-right:2.5px;letter-spacing:-0.17px;"><span>351</span></div>
<div class="t tr n" style="left:703.2px;top:443.6px;width:48.8px;height:12.3px;font-size:8.5px;padding-right:2.0px;letter-spacing:-0.17px;"><span>664</span></div>
<div class="t tl" style="left:38.2px;top:455.8px;width:209.8px;height:12.7px;font-size:6.95px;padding-left:1.5px;"><span>NORTH COUNTY CORRECTIONAL FACILITY</span></div>
<div class="t tr n" style="left:248.0px;top:455.9px;width:57.0px;height:12.7px;font-size:8.5px;padding-right:5.3px;letter-spacing:-0.17px;"><span>2,214</span></div>
<div class="t tr n" style="left:305.0px;top:455.9px;width:45.6px;height:12.7px;font-size:8.5px;padding-right:2.5px;letter-spacing:-0.17px;"><span>4,344</span></div>
<div class="t tr n" style="left:350.6px;top:455.9px;width:44.2px;height:12.7px;font-size:8.5px;padding-right:2.5px;letter-spacing:-0.17px;"><span>0</span></div>
<div class="t tr n" style="left:394.8px;top:455.9px;width:44.2px;height:12.7px;font-size:8.5px;padding-right:2.5px;letter-spacing:-0.17px;"><span>4,344</span></div>
<div class="t tr n" style="left:439.0px;top:455.9px;width:46.3px;height:12.7px;font-size:8.5px;padding-right:1.4px;letter-spacing:-0.17px;"><span>2</span></div>
<div class="t tr n" style="left:485.3px;top:455.9px;width:46.7px;height:12.7px;font-size:8.5px;padding-right:2.5px;letter-spacing:-0.17px;"><span>827</span></div>
<div class="t tr n" style="left:532.0px;top:455.9px;width:43.2px;height:12.7px;font-size:8.5px;padding-right:2.5px;letter-spacing:-0.17px;"><span>3,515</span></div>
<div class="t tr n" style="left:575.2px;top:455.9px;width:43.1px;height:12.7px;font-size:8.5px;padding-right:2.5px;letter-spacing:-0.17px;"><span>483</span></div>
<div class="t tr n" style="left:618.3px;top:455.9px;width:45.0px;height:12.7px;font-size:8.5px;padding-right:2.5px;letter-spacing:-0.17px;"><span>378</span></div>
<div class="t tr n" style="left:663.3px;top:455.9px;width:39.9px;height:12.7px;font-size:8.5px;padding-right:2.5px;letter-spacing:-0.17px;"><span>861</span></div>
<div class="t tr n" style="left:703.2px;top:455.9px;width:48.8px;height:12.7px;font-size:8.5px;padding-right:2.0px;letter-spacing:-0.17px;"><span>2,654</span></div>
<div class="t tr" style="left:38.2px;top:468.5px;width:209.8px;height:11.8px;font-size:6.95px;padding-right:2px;"><span>PDC TOTAL</span></div>
<div class="t tr n" style="left:248.0px;top:468.6px;width:57.0px;height:11.8px;font-size:8.5px;padding-right:2.5px;letter-spacing:-0.17px;"><span>4,752</span></div>
<div class="t tr n" style="left:305.0px;top:468.6px;width:45.6px;height:11.8px;font-size:8.5px;padding-right:2.5px;letter-spacing:-0.17px;"><span>9,362</span></div>
<div class="t tr n" style="left:350.6px;top:468.6px;width:44.2px;height:11.8px;font-size:8.5px;padding-right:2.5px;letter-spacing:-0.17px;"><span>30</span></div>
<div class="t tr n" style="left:394.8px;top:468.6px;width:44.2px;height:11.8px;font-size:8.5px;padding-right:2.5px;letter-spacing:-0.17px;"><span>9,392</span></div>
<div class="t tr n" style="left:439.0px;top:468.6px;width:46.3px;height:11.8px;font-size:8.5px;padding-right:1.4px;letter-spacing:-0.17px;"><span>139</span></div>
<div class="t tr n" style="left:485.3px;top:468.6px;width:46.7px;height:11.8px;font-size:8.5px;padding-right:2.5px;letter-spacing:-0.17px;"><span>3,335</span></div>
<div class="t tr n" style="left:532.0px;top:468.6px;width:43.2px;height:11.8px;font-size:8.5px;padding-right:2.5px;letter-spacing:-0.17px;"><span>5,918</span></div>
<div class="t tr n" style="left:575.2px;top:468.6px;width:43.1px;height:11.8px;font-size:8.5px;padding-right:2.5px;letter-spacing:-0.17px;"><span>615</span></div>
<div class="t tr n" style="left:618.3px;top:468.6px;width:45.0px;height:11.8px;font-size:8.5px;padding-right:2.5px;letter-spacing:-0.17px;"><span>874</span></div>
<div class="t tr n" style="left:663.3px;top:468.6px;width:39.9px;height:11.8px;font-size:8.5px;padding-right:2.5px;letter-spacing:-0.17px;"><span>1,489</span></div>
<div class="t tr n" style="left:703.2px;top:468.6px;width:48.8px;height:11.8px;font-size:8.5px;padding-right:1.6px;letter-spacing:-0.17px;"><span>4,429</span></div>
<div class="t tl" style="left:38.2px;top:480.3px;width:209.8px;height:12.7px;font-size:6.95px;padding-left:1.5px;"><span>CENTRAL JAIL</span></div>
<div class="t tr n" style="left:248.0px;top:480.4px;width:57.0px;height:12.7px;font-size:8.5px;padding-right:5.3px;letter-spacing:-0.17px;"><span>3,512</span></div>
<div class="t tr n" style="left:305.0px;top:480.4px;width:45.6px;height:12.7px;font-size:8.5px;padding-right:2.5px;letter-spacing:-0.17px;"><span>4,643</span></div>
<div class="t tr n" style="left:350.6px;top:480.4px;width:44.2px;height:12.7px;font-size:8.5px;padding-right:2.5px;letter-spacing:-0.17px;"><span>0</span></div>
<div class="t tr n" style="left:394.8px;top:480.4px;width:44.2px;height:12.7px;font-size:8.5px;padding-right:2.5px;letter-spacing:-0.17px;"><span>4,643</span></div>
<div class="t tr n" style="left:439.0px;top:480.4px;width:46.3px;height:12.7px;font-size:8.5px;padding-right:1.4px;letter-spacing:-0.17px;"><span>504</span></div>
<div class="t tr n" style="left:485.3px;top:480.4px;width:46.7px;height:12.7px;font-size:8.5px;padding-right:2.5px;letter-spacing:-0.17px;"><span>38</span></div>
<div class="t tr n" style="left:532.0px;top:480.4px;width:43.2px;height:12.7px;font-size:8.5px;padding-right:2.5px;letter-spacing:-0.17px;"><span>4,101</span></div>
<div class="t tr n" style="left:575.2px;top:480.4px;width:43.1px;height:12.7px;font-size:8.5px;padding-right:2.5px;letter-spacing:-0.17px;"><span>26</span></div>
<div class="t tr n" style="left:618.3px;top:480.4px;width:45.0px;height:12.7px;font-size:8.5px;padding-right:2.5px;letter-spacing:-0.17px;"><span>448</span></div>
<div class="t tr n" style="left:663.3px;top:480.4px;width:39.9px;height:12.7px;font-size:8.5px;padding-right:2.5px;letter-spacing:-0.17px;"><span>474</span></div>
<div class="t tr n" style="left:703.2px;top:480.4px;width:48.8px;height:12.7px;font-size:8.5px;padding-right:2.0px;letter-spacing:-0.17px;"><span>3,627</span></div>
<div class="t tl" style="left:38.2px;top:493.0px;width:209.8px;height:11.9px;font-size:6.95px;padding-left:1.5px;"><span>CENTRAL JAIL OUTPATIENT CLINIC</span></div>
<div class="t tr" style="left:248.0px;top:492.6px;width:57.0px;height:11.9px;font-size:5.5px;padding-right:4px;"><span>*NR</span></div>
<div class="t tr n" style="left:305.0px;top:493.1px;width:45.6px;height:11.9px;font-size:8.5px;padding-right:2.5px;letter-spacing:-0.17px;"><span>600</span></div>
<div class="t tr n" style="left:350.6px;top:493.1px;width:44.2px;height:11.9px;font-size:8.5px;padding-right:2.5px;letter-spacing:-0.17px;"><span>0</span></div>
<div class="t tr n" style="left:394.8px;top:493.1px;width:44.2px;height:11.9px;font-size:8.5px;padding-right:2.5px;letter-spacing:-0.17px;"><span>600</span></div>
<div class="t tr n" style="left:439.0px;top:493.1px;width:46.3px;height:11.9px;font-size:8.5px;padding-right:1.4px;letter-spacing:-0.17px;"><span>14</span></div>
<div class="t tr n" style="left:485.3px;top:493.1px;width:46.7px;height:11.9px;font-size:8.5px;padding-right:2.5px;letter-spacing:-0.17px;"><span>42</span></div>
<div class="t tr n" style="left:532.0px;top:493.1px;width:43.2px;height:11.9px;font-size:8.5px;padding-right:2.5px;letter-spacing:-0.17px;"><span>544</span></div>
<div class="t tr n" style="left:575.2px;top:493.1px;width:43.1px;height:11.9px;font-size:8.5px;padding-right:2.5px;letter-spacing:-0.17px;"><span>0</span></div>
<div class="t tr n" style="left:618.3px;top:493.1px;width:45.0px;height:11.9px;font-size:8.5px;padding-right:2.5px;letter-spacing:-0.17px;"><span>175</span></div>
<div class="t tr n" style="left:663.3px;top:493.1px;width:39.9px;height:11.9px;font-size:8.5px;padding-right:2.5px;letter-spacing:-0.17px;"><span>175</span></div>
<div class="t tr n" style="left:703.2px;top:493.1px;width:48.8px;height:11.9px;font-size:8.5px;padding-right:2.0px;letter-spacing:-0.17px;"><span>369</span></div>
<div class="t tl" style="left:38.2px;top:504.9px;width:209.8px;height:11.2px;font-size:6.95px;padding-left:1.5px;"><span>TWIN TOWERS CORRECTIONAL FACILITY-TOWER 1</span></div>
<div class="t tr n" style="left:248.0px;top:505.0px;width:57.0px;height:11.2px;font-size:8.5px;padding-right:5.3px;letter-spacing:-0.17px;"><span>1,238</span></div>
<div class="t tr n" style="left:305.0px;top:505.0px;width:45.6px;height:11.2px;font-size:8.5px;padding-right:2.5px;letter-spacing:-0.17px;"><span>2,014</span></div>
<div class="t tr n" style="left:350.6px;top:505.0px;width:44.2px;height:11.2px;font-size:8.5px;padding-right:2.5px;letter-spacing:-0.17px;"><span>60</span></div>
<div class="t tr n" style="left:394.8px;top:505.0px;width:44.2px;height:11.2px;font-size:8.5px;padding-right:2.5px;letter-spacing:-0.17px;"><span>2,074</span></div>
<div class="t tr n" style="left:439.0px;top:505.0px;width:46.3px;height:11.2px;font-size:8.5px;padding-right:1.4px;letter-spacing:-0.17px;"><span>40</span></div>
<div class="t tr n" style="left:485.3px;top:505.0px;width:46.7px;height:11.2px;font-size:8.5px;padding-right:2.5px;letter-spacing:-0.17px;"><span>336</span></div>
<div class="t tr n" style="left:532.0px;top:505.0px;width:43.2px;height:11.2px;font-size:8.5px;padding-right:2.5px;letter-spacing:-0.17px;"><span>1,698</span></div>
<div class="t tr n" style="left:575.2px;top:505.0px;width:43.1px;height:11.2px;font-size:8.5px;padding-right:2.5px;letter-spacing:-0.17px;"><span>0</span></div>
<div class="t tr n" style="left:618.3px;top:505.0px;width:45.0px;height:11.2px;font-size:8.5px;padding-right:2.5px;letter-spacing:-0.17px;"><span>552</span></div>
<div class="t tr n" style="left:663.3px;top:505.0px;width:39.9px;height:11.2px;font-size:8.5px;padding-right:2.5px;letter-spacing:-0.17px;"><span>552</span></div>
<div class="t tr n" style="left:703.2px;top:505.0px;width:48.8px;height:11.2px;font-size:8.5px;padding-right:2.0px;letter-spacing:-0.17px;"><span>1,146</span></div>
<div class="t tl" style="left:38.2px;top:516.1px;width:209.8px;height:11.1px;font-size:6.95px;padding-left:1.5px;"><span>TWIN TOWERS CORRECTIONAL FACILITY-TOWER 2</span></div>
<div class="t tr n" style="left:248.0px;top:516.2px;width:57.0px;height:11.1px;font-size:8.5px;padding-right:5.3px;letter-spacing:-0.17px;"><span>1,194</span></div>
<div class="t tr n" style="left:305.0px;top:516.2px;width:45.6px;height:11.1px;font-size:8.5px;padding-right:2.5px;letter-spacing:-0.17px;"><span>1,817</span></div>
<div class="t tr n" style="left:350.6px;top:516.2px;width:44.2px;height:11.1px;font-size:8.5px;padding-right:2.5px;letter-spacing:-0.17px;"><span>276</span></div>
<div class="t tr n" style="left:394.8px;top:516.2px;width:44.2px;height:11.1px;font-size:8.5px;padding-right:2.5px;letter-spacing:-0.17px;"><span>2,093</span></div>
<div class="t tr n" style="left:439.0px;top:516.2px;width:46.3px;height:11.1px;font-size:8.5px;padding-right:1.4px;letter-spacing:-0.17px;"><span>49</span></div>
<div class="t tr n" style="left:485.3px;top:516.2px;width:46.7px;height:11.1px;font-size:8.5px;padding-right:2.5px;letter-spacing:-0.17px;"><span>513</span></div>
<div class="t tr n" style="left:532.0px;top:516.2px;width:43.2px;height:11.1px;font-size:8.5px;padding-right:2.5px;letter-spacing:-0.17px;"><span>1,531</span></div>
<div class="t tr n" style="left:575.2px;top:516.2px;width:43.1px;height:11.1px;font-size:8.5px;padding-right:2.5px;letter-spacing:-0.17px;"><span>0</span></div>
<div class="t tr n" style="left:618.3px;top:516.2px;width:45.0px;height:11.1px;font-size:8.5px;padding-right:2.5px;letter-spacing:-0.17px;"><span>393</span></div>
<div class="t tr n" style="left:663.3px;top:516.2px;width:39.9px;height:11.1px;font-size:8.5px;padding-right:2.5px;letter-spacing:-0.17px;"><span>393</span></div>
<div class="t tr n" style="left:703.2px;top:516.2px;width:48.8px;height:11.1px;font-size:8.5px;padding-right:2.0px;letter-spacing:-0.17px;"><span>1,138</span></div>
<div class="t tr" style="left:38.2px;top:527.2px;width:209.8px;height:11.8px;font-size:6.95px;padding-right:2px;"><span>CJ &amp; TTCF MALE TOTAL</span></div>
<div class="t tr n" style="left:248.0px;top:527.3px;width:57.0px;height:11.8px;font-size:8.5px;padding-right:2.5px;letter-spacing:-0.17px;"><span>5,944</span></div>
<div class="t tr n" style="left:305.0px;top:527.3px;width:45.6px;height:11.8px;font-size:8.5px;padding-right:2.5px;letter-spacing:-0.17px;"><span>9,074</span></div>
<div class="t tr n" style="left:350.6px;top:527.3px;width:44.2px;height:11.8px;font-size:8.5px;padding-right:2.5px;letter-spacing:-0.17px;"><span>336</span></div>
<div class="t tr n" style="left:394.8px;top:527.3px;width:44.2px;height:11.8px;font-size:8.5px;padding-right:2.5px;letter-spacing:-0.17px;"><span>9,410</span></div>
<div class="t tr n" style="left:439.0px;top:527.3px;width:46.3px;height:11.8px;font-size:8.5px;padding-right:1.4px;letter-spacing:-0.17px;"><span>607</span></div>
<div class="t tr n" style="left:485.3px;top:527.3px;width:46.7px;height:11.8px;font-size:8.5px;padding-right:2.5px;letter-spacing:-0.17px;"><span>929</span></div>
<div class="t tr n" style="left:532.0px;top:527.3px;width:43.2px;height:11.8px;font-size:8.5px;padding-right:2.5px;letter-spacing:-0.17px;"><span>7,874</span></div>
<div class="t tr n" style="left:575.2px;top:527.3px;width:43.1px;height:11.8px;font-size:8.5px;padding-right:2.5px;letter-spacing:-0.17px;"><span>26</span></div>
<div class="t tr n" style="left:618.3px;top:527.3px;width:45.0px;height:11.8px;font-size:8.5px;padding-right:2.5px;letter-spacing:-0.17px;"><span>1,568</span></div>
<div class="t tr n" style="left:663.3px;top:527.3px;width:39.9px;height:11.8px;font-size:8.5px;padding-right:2.5px;letter-spacing:-0.17px;"><span>1,594</span></div>
<div class="t tr n" style="left:703.2px;top:527.3px;width:48.8px;height:11.8px;font-size:8.5px;padding-right:1.6px;letter-spacing:-0.17px;"><span>6,280</span></div>
<div class="t tl" style="left:38.2px;top:539.0px;width:209.8px;height:11.7px;font-size:6.95px;padding-left:1.5px;"><span>CENTURY REGIONAL DETENTION FACILITY (FEMALES)</span></div>
<div class="t tr n" style="left:248.0px;top:539.1px;width:57.0px;height:11.7px;font-size:8.5px;padding-right:5.3px;letter-spacing:-0.17px;"><span>1,708</span></div>
<div class="t tr n" style="left:305.0px;top:539.1px;width:45.6px;height:11.7px;font-size:8.5px;padding-right:2.5px;letter-spacing:-0.17px;"><span>2,158</span></div>
<div class="t tr n" style="left:350.6px;top:539.1px;width:44.2px;height:11.7px;font-size:8.5px;padding-right:2.5px;letter-spacing:-0.17px;"><span>372</span></div>
<div class="t tr n" style="left:394.8px;top:539.1px;width:44.2px;height:11.7px;font-size:8.5px;padding-right:2.5px;letter-spacing:-0.17px;"><span>2,530</span></div>
<div class="t tr n" style="left:439.0px;top:539.1px;width:46.3px;height:11.7px;font-size:8.5px;padding-right:1.4px;letter-spacing:-0.17px;"><span>18</span></div>
<div class="t tr n" style="left:485.3px;top:539.1px;width:46.7px;height:11.7px;font-size:8.5px;padding-right:2.5px;letter-spacing:-0.17px;"><span>425</span></div>
<div class="t tr n" style="left:532.0px;top:539.1px;width:43.2px;height:11.7px;font-size:8.5px;padding-right:2.5px;letter-spacing:-0.17px;"><span>2,087</span></div>
<div class="t tr n" style="left:575.2px;top:539.1px;width:43.1px;height:11.7px;font-size:8.5px;padding-right:2.5px;letter-spacing:-0.17px;"><span>89</span></div>
<div class="t tr n" style="left:618.3px;top:539.1px;width:45.0px;height:11.7px;font-size:8.5px;padding-right:2.5px;letter-spacing:-0.17px;"><span>415</span></div>
<div class="t tr n" style="left:663.3px;top:539.1px;width:39.9px;height:11.7px;font-size:8.5px;padding-right:2.5px;letter-spacing:-0.17px;"><span>790</span></div>
<div class="t tr n" style="left:703.2px;top:539.1px;width:48.8px;height:11.7px;font-size:8.5px;padding-right:2.0px;letter-spacing:-0.17px;"><span>1,297</span></div>
<div class="t tr" style="left:38.2px;top:550.7px;width:209.8px;height:11.4px;font-size:6.95px;padding-right:2px;"><span>CRDF FEMALE TOTAL</span></div>
<div class="t tr n" style="left:248.0px;top:550.8px;width:57.0px;height:11.4px;font-size:8.5px;padding-right:2.5px;letter-spacing:-0.17px;"><span>1,708</span></div>
<div class="t tr n" style="left:305.0px;top:550.8px;width:45.6px;height:11.4px;font-size:8.5px;padding-right:2.5px;letter-spacing:-0.17px;"><span>2,158</span></div>
<div class="t tr n" style="left:350.6px;top:550.8px;width:44.2px;height:11.4px;font-size:8.5px;padding-right:2.5px;letter-spacing:-0.17px;"><span>372</span></div>
<div class="t tr n" style="left:394.8px;top:550.8px;width:44.2px;height:11.4px;font-size:8.5px;padding-right:2.5px;letter-spacing:-0.17px;"><span>2,530</span></div>
<div class="t tr n" style="left:439.0px;top:550.8px;width:46.3px;height:11.4px;font-size:8.5px;padding-right:1.4px;letter-spacing:-0.17px;"><span>18</span></div>
<div class="t tr n" style="left:485.3px;top:550.8px;width:46.7px;height:11.4px;font-size:8.5px;padding-right:2.5px;letter-spacing:-0.17px;"><span>425</span></div>
<div class="t tr n" style="left:532.0px;top:550.8px;width:43.2px;height:11.4px;font-size:8.5px;padding-right:2.5px;letter-spacing:-0.17px;"><span>2,087</span></div>
<div class="t tr n" style="left:575.2px;top:550.8px;width:43.1px;height:11.4px;font-size:8.5px;padding-right:2.5px;letter-spacing:-0.17px;"><span>89</span></div>
<div class="t tr n" style="left:618.3px;top:550.8px;width:45.0px;height:11.4px;font-size:8.5px;padding-right:2.5px;letter-spacing:-0.17px;"><span>415</span></div>
<div class="t tr n" style="left:663.3px;top:550.8px;width:39.9px;height:11.4px;font-size:8.5px;padding-right:2.5px;letter-spacing:-0.17px;"><span>790</span></div>
<div class="t tr n" style="left:703.2px;top:550.8px;width:48.8px;height:11.4px;font-size:8.5px;padding-right:1.6px;letter-spacing:-0.17px;"><span>1,297</span></div>
<div class="t tl" style="left:38.2px;top:562.1px;width:209.8px;height:12.7px;font-size:6.95px;padding-left:1.5px;"><span>CORRECTIONAL TREATMENT CENTER (MSB) MALES</span></div>
<div class="t tr n" style="left:703.2px;top:562.2px;width:48.8px;height:12.7px;font-size:8.5px;padding-right:1.8px;letter-spacing:-0.17px;"><span>100</span></div>
<div class="t tl" style="left:38.2px;top:574.8px;width:209.8px;height:12.4px;font-size:6.95px;padding-left:1.5px;"><span>CORRECTIONAL TREATMENT CENTER (MSB) FEMALES</span></div>
<div class="t tr n" style="left:703.2px;top:574.9px;width:48.8px;height:12.4px;font-size:8.5px;padding-right:1.8px;letter-spacing:-0.17px;"><span>16</span></div>
<div class="t tr" style="left:38.2px;top:587.2px;width:209.8px;height:12.4px;font-size:6.95px;padding-right:2px;"><span>CORRECTIONAL TREATMENT CENTER&nbsp; TOTAL</span></div>
<div class="t tr" style="left:248.0px;top:586.0px;width:57.0px;height:12.4px;font-size:5.5px;padding-right:1.5px;letter-spacing:0.4px;"><span>*NR</span></div>
<div class="t tr n" style="left:305.0px;top:587.3px;width:45.6px;height:12.4px;font-size:8.5px;padding-right:2.5px;letter-spacing:-0.17px;"><span>196</span></div>
<div class="t tr n" style="left:350.6px;top:587.3px;width:44.2px;height:12.4px;font-size:8.5px;padding-right:2.5px;letter-spacing:-0.17px;"><span>0</span></div>
<div class="t tr n" style="left:394.8px;top:587.3px;width:44.2px;height:12.4px;font-size:8.5px;padding-right:2.5px;letter-spacing:-0.17px;"><span>196</span></div>
<div class="t tr n" style="left:439.0px;top:587.3px;width:46.3px;height:12.4px;font-size:8.5px;padding-right:1.4px;letter-spacing:-0.17px;"><span>0</span></div>
<div class="t tr n" style="left:485.3px;top:587.3px;width:46.7px;height:12.4px;font-size:8.5px;padding-right:2.5px;letter-spacing:-0.17px;"><span>0</span></div>
<div class="t tr n" style="left:532.0px;top:587.3px;width:43.2px;height:12.4px;font-size:8.5px;padding-right:2.5px;letter-spacing:-0.17px;"><span>196</span></div>
<div class="t tr n" style="left:575.2px;top:587.3px;width:43.1px;height:12.4px;font-size:8.5px;padding-right:2.5px;letter-spacing:-0.17px;"><span>0</span></div>
<div class="t tr n" style="left:618.3px;top:587.3px;width:45.0px;height:12.4px;font-size:8.5px;padding-right:2.5px;letter-spacing:-0.17px;"><span>80</span></div>
<div class="t tr n" style="left:663.3px;top:587.3px;width:39.9px;height:12.4px;font-size:8.5px;padding-right:2.5px;letter-spacing:-0.17px;"><span>80</span></div>
<div class="t tr n" style="left:703.2px;top:587.3px;width:48.8px;height:12.4px;font-size:8.5px;padding-right:1.6px;letter-spacing:-0.17px;"><span>116</span></div>
<div class="t tl" style="left:38.2px;top:599.6px;width:209.8px;height:12.3px;font-size:6.95px;padding-left:1.5px;"><span>LCMC JAIL WARDS MALE</span></div>
<div class="t tr n" style="left:703.2px;top:599.7px;width:48.8px;height:12.3px;font-size:8.5px;padding-right:1.8px;letter-spacing:-0.17px;"><span>13</span></div>
<div class="t tl" style="left:38.2px;top:611.9px;width:209.8px;height:12.4px;font-size:6.95px;padding-left:1.5px;"><span>LCMC JAIL WARDS FEMALE</span></div>
<div class="t tr n" style="left:703.2px;top:612.0px;width:48.8px;height:12.4px;font-size:8.5px;padding-right:1.8px;letter-spacing:-0.17px;"><span>1</span></div>
<div class="t tr" style="left:38.2px;top:624.3px;width:209.8px;height:12.3px;font-size:6.95px;padding-right:2px;"><span>LCMC JAIL WARD TOTAL</span></div>
<div class="t tr" style="left:248.0px;top:623.1px;width:57.0px;height:12.3px;font-size:5.5px;padding-right:1.5px;letter-spacing:0.4px;"><span>*NR</span></div>
<div class="t tr n" style="left:305.0px;top:624.4px;width:45.6px;height:12.3px;font-size:8.5px;padding-right:2.5px;letter-spacing:-0.17px;"><span>40</span></div>
<div class="t tr n" style="left:350.6px;top:624.4px;width:44.2px;height:12.3px;font-size:8.5px;padding-right:2.5px;letter-spacing:-0.17px;"><span>0</span></div>
<div class="t tr n" style="left:394.8px;top:624.4px;width:44.2px;height:12.3px;font-size:8.5px;padding-right:2.5px;letter-spacing:-0.17px;"><span>40</span></div>
<div class="t tr n" style="left:439.0px;top:624.4px;width:46.3px;height:12.3px;font-size:8.5px;padding-right:1.4px;letter-spacing:-0.17px;"><span>0</span></div>
<div class="t tr n" style="left:485.3px;top:624.4px;width:46.7px;height:12.3px;font-size:8.5px;padding-right:2.5px;letter-spacing:-0.17px;"><span>0</span></div>
<div class="t tr n" style="left:532.0px;top:624.4px;width:43.2px;height:12.3px;font-size:8.5px;padding-right:2.5px;letter-spacing:-0.17px;"><span>40</span></div>
<div class="t tr n" style="left:575.2px;top:624.4px;width:43.1px;height:12.3px;font-size:8.5px;padding-right:2.5px;letter-spacing:-0.17px;"><span>0</span></div>
<div class="t tr n" style="left:618.3px;top:624.4px;width:45.0px;height:12.3px;font-size:8.5px;padding-right:2.5px;letter-spacing:-0.17px;"><span>26</span></div>
<div class="t tr n" style="left:663.3px;top:624.4px;width:39.9px;height:12.3px;font-size:8.5px;padding-right:2.5px;letter-spacing:-0.17px;"><span>26</span></div>
<div class="t tr n" style="left:703.2px;top:624.4px;width:48.8px;height:12.3px;font-size:8.5px;padding-right:1.6px;letter-spacing:-0.17px;"><span>14</span></div>
<div class="t tr" style="left:38.2px;top:636.6px;width:209.8px;height:12.4px;font-size:6.95px;padding-right:2px;"><span>OCCUPIED TOTAL</span></div>
<div class="t tr n" style="left:305.0px;top:636.7px;width:45.6px;height:12.4px;font-size:10px;padding-right:2.5px;letter-spacing:-0.25px;"><span>20,830</span></div>
<div class="t tr n" style="left:350.6px;top:636.7px;width:44.2px;height:12.4px;font-size:10px;padding-right:2.5px;letter-spacing:-0.25px;"><span>738</span></div>
<div class="t tr n" style="left:394.8px;top:636.7px;width:44.2px;height:12.4px;font-size:10px;padding-right:2.5px;letter-spacing:-0.25px;"><span>21,568</span></div>
<div class="t tr n" style="left:439.0px;top:636.7px;width:46.3px;height:12.4px;font-size:10px;padding-right:1.4px;letter-spacing:-0.25px;"><span>764</span></div>
<div class="t tr n" style="left:485.3px;top:636.7px;width:46.7px;height:12.4px;font-size:10px;padding-right:2.5px;letter-spacing:-0.25px;"><span>4,689</span></div>
<div class="t tr n" style="left:532.0px;top:636.7px;width:43.2px;height:12.4px;font-size:10px;padding-right:2.5px;letter-spacing:-0.25px;"><span>16,115</span></div>
<div class="t tr n" style="left:575.2px;top:636.7px;width:43.1px;height:12.4px;font-size:10px;padding-right:2.5px;letter-spacing:-0.25px;"><span>730</span></div>
<div class="t tr n" style="left:618.3px;top:636.7px;width:45.0px;height:12.4px;font-size:10px;padding-right:2.5px;letter-spacing:-0.25px;"><span>2,963</span></div>
<div class="t tr n" style="left:663.3px;top:636.7px;width:39.9px;height:12.4px;font-size:10px;padding-right:2.5px;letter-spacing:-0.25px;"><span>3,979</span></div>
<div class="t tr n" style="left:703.2px;top:636.7px;width:48.8px;height:12.4px;font-size:10px;padding-right:1.6px;letter-spacing:-0.25px;"><span>12,136</span></div>
<div class="t tl" style="left:38.2px;top:649.0px;width:209.8px;height:12.6px;font-size:6.95px;padding-left:1.5px;"><span>INMATE RECEPTION CENTER</span></div>
<div class="t tr n" style="left:703.2px;top:649.1px;width:48.8px;height:12.6px;font-size:8.5px;padding-right:1.8px;letter-spacing:-0.17px;"><span>254</span></div>
<div class="t tl" style="left:38.2px;top:661.6px;width:209.8px;height:12.0px;font-size:6.95px;padding-left:1.5px;"><span>CRDF RECEPTION CENTER</span></div>
<div class="t tr n" style="left:703.2px;top:661.7px;width:48.8px;height:12.0px;font-size:8.5px;padding-right:1.8px;letter-spacing:-0.17px;"><span>1</span></div>
<div class="t tr" style="left:38.2px;top:673.6px;width:209.8px;height:12.6px;font-size:6.95px;padding-right:2px;"><span>RECEPTION CENTERS TOTAL</span></div>
<div class="t tr n" style="left:703.2px;top:673.7px;width:48.8px;height:12.6px;font-size:8.5px;padding-right:1.8px;letter-spacing:-0.17px;"><span>255</span></div>
<div class="t tr" style="left:38.2px;top:686.2px;width:209.8px;height:12.5px;font-size:6.95px;padding-right:2px;"><span>TOTAL BSCC RATED CAPACITY</span></div>
<div class="t tr n" style="left:248.0px;top:686.3px;width:57.0px;height:12.5px;font-size:10px;padding-right:2.2px;letter-spacing:-0.25px;"><span>12,404</span></div>
<div class="t tc" style="left:618.3px;top:685.0px;width:84.9px;height:12.5px;font-size:6.2px;"><span>MALE DIVISION TOTAL</span></div>
<div class="t tr n" style="left:703.2px;top:686.3px;width:48.8px;height:12.5px;font-size:9.2px;padding-right:1.5px;letter-spacing:0.2px;"><span>11,076</span></div>
<div class="t tc" style="left:618.3px;top:697.5px;width:84.9px;height:12.3px;font-size:6.2px;"><span>FEMALE DIVISION TOTAL</span></div>
<div class="t tr n" style="left:703.2px;top:698.8px;width:48.8px;height:12.3px;font-size:9.2px;padding-right:1.5px;letter-spacing:0.2px;"><span>1,315</span></div>
<div class="t tc" style="left:536.3px;top:710.6px;width:160.0px;height:12.4px;font-size:9.9px;"><span>CUSTODY DIVISION TOTAL</span></div>
<div class="t tr n" style="left:703.2px;top:711.4px;width:48.8px;height:12.4px;font-size:9.2px;padding-right:1.5px;letter-spacing:0.2px;"><span>12,391</span></div>
<div class="t tc" style="left:38.2px;top:735.4px;width:209.8px;height:23.0px;font-size:7.9px;line-height:9.5px;"><span>GRAND TOTAL INCLUDES ATC (ALTERNATIVE TO<br>CUSTODY), FIRE CAMP AND STATION WORKERS.</span></div>
<div class="t tc" style="left:618.3px;top:734.6px;width:84.9px;height:11.8px;font-size:6.2px;"><span>MALE ATC TOTAL</span></div>
<div class="t tr n" style="left:703.2px;top:735.9px;width:48.8px;height:11.8px;font-size:10px;padding-right:1.8px;letter-spacing:-0.25px;"><span>92</span></div>
<div class="t tc" style="left:618.3px;top:746.4px;width:84.9px;height:11.7px;font-size:6.2px;"><span>FEMALE ATC TOTAL</span></div>
<div class="t tr n" style="left:703.2px;top:747.7px;width:48.8px;height:11.7px;font-size:10px;padding-right:1.8px;letter-spacing:-0.25px;"><span>13</span></div>
<div class="t tc" style="left:618.3px;top:758.9px;width:84.9px;height:12.2px;font-size:9.8px;"><span>GRAND TOTAL</span></div>
<div class="t tr n" style="left:703.2px;top:759.7px;width:48.8px;height:12.2px;font-size:9.2px;padding-right:1.5px;letter-spacing:0.2px;"><span>12,496</span></div>
<div class="t tl" style="left:40.2px;top:782.6px;height:10px;line-height:10px;font-size:6.2px;font-weight:400;color:#222;font-style:italic;"><span>Fire Camp Program Count: Inmates housed at a CDCR Fire Camp.</span></div>
<div class="t tl" style="left:40.2px;top:789.6px;height:10px;line-height:10px;font-size:6.2px;font-weight:400;color:#222;font-style:italic;"><span>Fire Camp Training Count: Inmates housed at PDC East.</span></div>
<div class="t tl" style="left:40.2px;top:796.6px;height:10px;line-height:10px;font-size:6.2px;font-weight:400;color:#222;font-style:italic;"><span>BSCC Rated Capacity: Inspection date 2020</span></div>
<div class="t tl" style="left:40.2px;top:804.6px;height:10px;line-height:10px;font-size:6.2px;font-weight:400;color:#222;font-style:italic;"><span>*NR: Capacity not rated by BSCC</span></div>
<div class="t tl" style="left:40.2px;top:811.6px;height:10px;line-height:10px;font-size:6.2px;font-weight:400;color:#222;font-style:italic;"><span>Facility Capacity: Total beds reported by each facility.</span></div>
<div class="t tl" style="left:40.2px;top:821.6px;height:10px;line-height:10px;font-size:6.2px;font-weight:400;color:#222;font-style:italic;"><span>Overflow Capacity: Total dayroom beds added to each facility.</span></div>
<div class="t tl" style="left:40.2px;top:828.6px;height:10px;line-height:10px;font-size:6.2px;font-weight:400;color:#222;font-style:italic;"><span>Adjusted Capacity: Total number of Facility Capacity + Overflow Capacity</span></div>
<div class="t tl" style="left:40.2px;top:835.6px;height:10px;line-height:10px;font-size:6.2px;font-weight:400;color:#222;font-style:italic;"><span>Available "RESTRICTED" Beds: Inmate Workers, Medical, Discipline, School, Child Sex Crimes,&nbsp; LGBT, K-10, K-1, SVP, Etc.</span></div>
<div class="t tl" style="left:40.2px;top:842.6px;height:10px;line-height:10px;font-size:6.2px;font-weight:400;color:#222;font-style:italic;"><span>CRDF Reception Center BSCC: Includes Module 1400 - Receiving Housing</span></div>
<div class="t tl" style="left:40.2px;top:850.6px;height:10px;line-height:10px;font-size:6.1px;font-weight:400;color:#222;"><span>As of 5/19/15 the Division Grand Total includes CBAC/CTU and Fire Camp</span></div>
<div class="t tl" style="left:40.2px;top:857.6px;height:10px;line-height:10px;font-size:6.1px;font-weight:400;color:#222;"><span>California Code of Regulations Title 15. Crime Prevention and Corrections 3274. Inmate Count (a) "A physical count of all inmates shall be taken."</span></div>
<div class="t tl" style="left:40.2px;top:879.6px;height:10px;line-height:10px;font-size:6.1px;font-weight:400;color:#222;"><span>This summary data document was created by the Los Angeles County Sheriff’s Department as an internal population management tool.</span></div>
<div class="t tl" style="left:40.2px;top:886.6px;height:10px;line-height:10px;font-size:6.1px;font-weight:400;color:#222;"><span>The information contained within this report is deemed accurate only as of the generation date and time due to the constant, dynamic change of the population.</span></div>
<div class="t tl" style="left:40.2px;top:894.6px;height:10px;line-height:10px;font-size:6.1px;font-weight:400;color:#222;"><span>The Department makes no warranties, express or implied, as to the fitness of this information for any purpose, or with respect to results obtained by individuals</span></div>
<div class="t tl" style="left:40.2px;top:901.6px;height:10px;line-height:10px;font-size:6.1px;font-weight:400;color:#222;"><span>or other entities resulting from the use of any such information.</span></div>
<div class="t tl" style="left:40.2px;top:909.6px;height:10px;line-height:10px;font-size:6.1px;font-weight:400;color:#222;"><span>This report has been compiled on a best efforts basis, and, the information is subject to daily change.</span></div>
</div></body></html>
